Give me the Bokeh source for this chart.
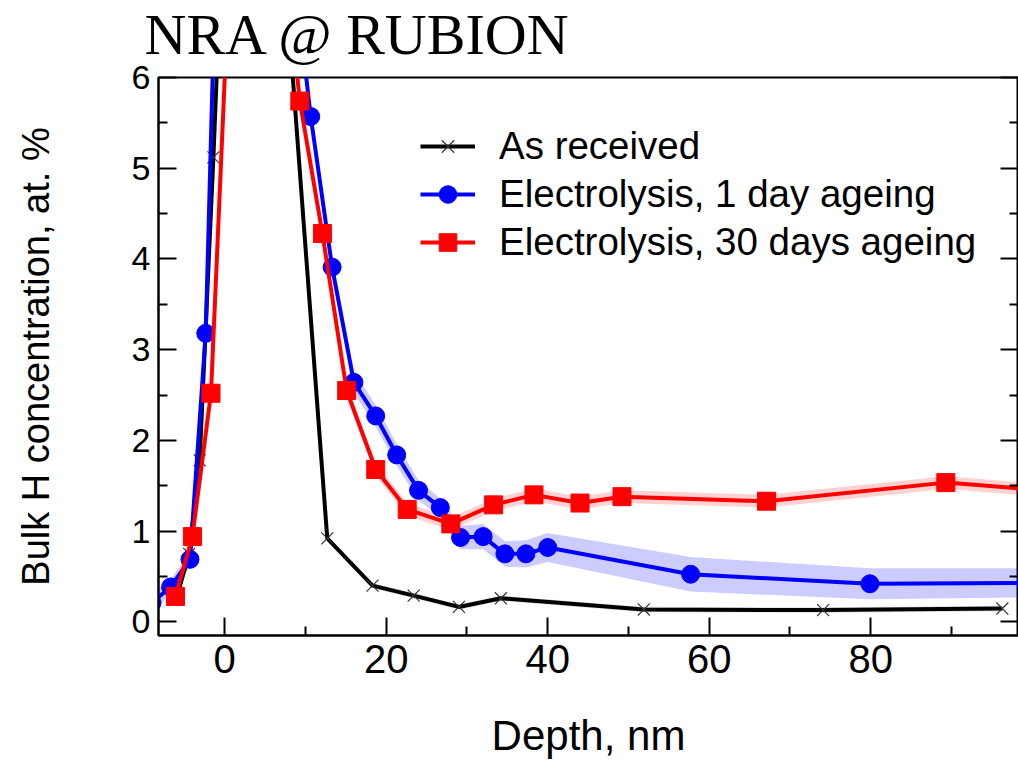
from bokeh.plotting import figure
from bokeh.models import Range1d, LinearAxis, Legend, LegendItem, FixedTicker
from bokeh.embed import file_html
from bokeh.resources import INLINE

# ---- data ----
title_text = "NRA @ RUBION"
x_ticks = [0, 20, 40, 60, 80]
x_minor = [10, 30, 50, 70, 90]
y_ticks = [0, 1, 2, 3, 4, 5, 6]
y_minor = [0.5, 1.5, 2.5, 3.5, 4.5, 5.5]

ar_label = "As received"
ar_x = [-5.9, -4.4, -3.1, -1.4, 2.3, 12.7, 18.3, 23.4, 29.0, 34.2, 51.9, 74.1, 96.3]
ar_y = [0.29, 0.75, 1.78, 5.12, 13.3, 0.92, 0.40, 0.29, 0.165, 0.26, 0.137, 0.13, 0.147]
ar_err = [0.03, 0.03, 0.04, 0.05, 0.1, 0.03, 0.03, 0.03, 0.03, 0.03, 0.03, 0.03, 0.03]

e1_label = "Electrolysis, 1 day ageing"
e1_x = [-9.0, -6.7, -4.3, -2.35, 0.7, 10.65, 13.3, 16.0, 18.7, 21.3, 24.0, 26.7,
        29.2, 32.0, 34.7, 37.3, 40.0, 57.7, 79.9, 100.0]
e1_y = [0.21, 0.385, 0.69, 3.18, 13.3, 5.57, 3.91, 2.64, 2.27, 1.84, 1.45, 1.26,
        0.93, 0.94, 0.75, 0.75, 0.82, 0.525, 0.42, 0.43]
e1_err = [0.1, 0.08, 0.08, 0.1, 0.2, 0.1, 0.1, 0.12, 0.12, 0.12, 0.11, 0.1,
          0.13, 0.14, 0.14, 0.15, 0.16, 0.19, 0.17, 0.16]

e30_label = "Electrolysis, 30 days ageing"
e30_x = [-6.1, -4.0, -1.7, 2.7, 9.3, 12.1, 15.1, 18.7, 22.6, 28.0, 33.3, 38.3,
         44.0, 49.2, 67.1, 89.3, 100.0]
e30_y = [0.28, 0.94, 2.52, 11.5, 5.74, 4.28, 2.55, 1.68, 1.24, 1.08, 1.29, 1.40,
         1.31, 1.38, 1.33, 1.535, 1.46]
e30_err = [0.05, 0.05, 0.06, 0.1, 0.06, 0.06, 0.07, 0.07, 0.07, 0.07, 0.07, 0.07,
           0.07, 0.07, 0.07, 0.07, 0.07]

SANS = "Liberation Sans"

p = figure(width=1018, height=761, output_backend="svg", toolbar_location=None,
           x_range=Range1d(-8.2, 98.3), y_range=Range1d(-0.15, 6.0),
           min_border_left=158, min_border_right=0, min_border_top=77, min_border_bottom=126)
p.background_fill_color = "white"
p.border_fill_color = "white"
p.xgrid.visible = False
p.ygrid.visible = False
p.outline_line_color = "black"
p.outline_line_width = 2

bottom_ax = p.below[0]
left_ax = p.left[0]

# invisible spacer axis between the frame and the title
top_spacer = LinearAxis(ticker=FixedTicker(ticks=[x_ticks[0]], minor_ticks=[]))
top_spacer.major_label_overrides = {x_ticks[0]: ""}
top_spacer.major_label_text_font_size = "1px"
top_spacer.major_tick_out = 9
top_spacer.major_tick_in = 0
top_spacer.minor_tick_out = 0
top_spacer.minor_tick_in = 0
top_spacer.major_label_standoff = 0
top_spacer.axis_label_standoff = 0
top_spacer.major_tick_line_color = None
top_spacer.minor_tick_line_color = None
top_spacer.axis_line_color = None
p.add_layout(top_spacer, "above")

p.title.text = title_text
p.title.text_font = "Liberation Serif"
p.title.text_font_size = "58px"
p.title.text_font_style = "normal"
p.title.text_color = "black"
p.title.align = "left"
p.title.offset = -14
p.title.standoff = 0
p.title.vertical_align = "top"
p.title.text_line_height = 1.0

# bands
def band(xs, ys, es, color, alpha):
    lo = [y - e for y, e in zip(ys, es)]
    hi = [y + e for y, e in zip(ys, es)]
    p.varea(x=xs, y1=lo, y2=hi, fill_color=color, fill_alpha=alpha)

band(ar_x, ar_y, ar_err, "#808080", 0.25)
band(e1_x, e1_y, e1_err, "#0000ff", 0.2)
band(e30_x, e30_y, e30_err, "#ff0000", 0.18)

ar_line = p.line(ar_x, ar_y, line_color="black", line_width=4)
ar_mk = p.scatter(ar_x, ar_y, marker="x", size=17, line_color="#333333", line_width=1.2)
e1_line = p.line(e1_x, e1_y, line_color="#0000ff", line_width=4)
e1_mk = p.scatter(e1_x, e1_y, marker="circle", size=18, fill_color="#0000ff", line_color="#0000ff")
e30_line = p.line(e30_x, e30_y, line_color="#ff0000", line_width=4)
e30_mk = p.scatter(e30_x, e30_y, marker="square", size=18, fill_color="#ff0000", line_color="#ff0000")

legend = Legend(items=[
    LegendItem(label=ar_label, renderers=[ar_line, ar_mk]),
    LegendItem(label=e1_label, renderers=[e1_line, e1_mk]),
    LegendItem(label=e30_label, renderers=[e30_line, e30_mk]),
], location=(262, 371))
legend.label_text_font = SANS
legend.label_text_font_size = "38.5px"
legend.label_text_color = "black"
legend.glyph_width = 55
legend.glyph_height = 44
legend.label_height = 44
legend.spacing = 4
legend.padding = 0
legend.margin = 0
legend.label_standoff = 24
legend.border_line_color = None
legend.background_fill_alpha = 0
p.add_layout(legend)

right_ax = LinearAxis()
p.add_layout(right_ax, "right")

for ax in [bottom_ax, left_ax, right_ax]:
    ax.major_tick_in = 18
    ax.major_tick_out = 0
    ax.minor_tick_in = 9
    ax.minor_tick_out = 0
    ax.axis_line_width = 2
    ax.major_tick_line_width = 2
    ax.minor_tick_line_width = 2
    ax.axis_line_color = "black"
    ax.major_tick_line_color = "black"
    ax.minor_tick_line_color = "black"
    ax.major_label_text_font = SANS
    ax.major_label_text_font_size = "34px"
    ax.major_label_text_color = "black"
    ax.axis_label_text_font = SANS
    ax.axis_label_text_font_style = "normal"
    ax.axis_label_text_color = "black"

bottom_ax.ticker = FixedTicker(ticks=x_ticks, minor_ticks=x_minor)
left_ax.ticker = FixedTicker(ticks=y_ticks, minor_ticks=y_minor)
right_ax.ticker = FixedTicker(ticks=y_ticks, minor_ticks=y_minor)
right_ax.major_label_overrides = {t: "" for t in y_ticks}
right_ax.major_label_standoff = 0
right_ax.axis_line_color = None

bottom_ax.axis_label = "Depth, nm"
bottom_ax.axis_label_text_font_size = "42px"
bottom_ax.major_label_text_font_size = "40px"
bottom_ax.major_label_standoff = 9
bottom_ax.axis_label_standoff = 36
left_ax.axis_label = "Bulk H concentration, at. %"
left_ax.axis_label_text_font_size = "38px"
left_ax.major_label_standoff = 8
left_ax.axis_label_standoff = 72

open("out.html", "w").write(file_html(p, INLINE))
